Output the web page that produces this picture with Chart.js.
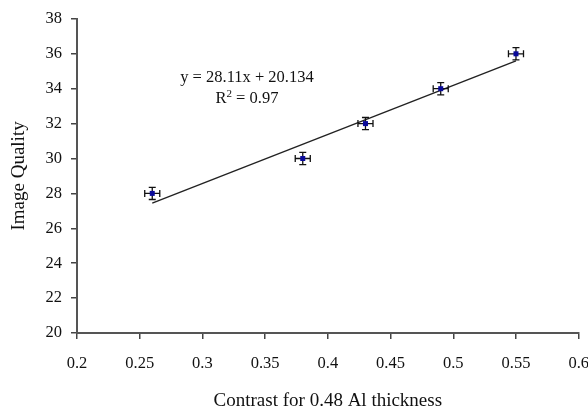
<!DOCTYPE html>
<html>
<head>
<meta charset="utf-8">
<script src="https://cdn.jsdelivr.net/npm/chart.js@4"></script>
<style>
  html, body { margin: 0; padding: 0; background: #fff; overflow: hidden; }
  #wrap { width: 604px; height: 416px; }
</style>
</head>
<body>
<div id="wrap"><canvas id="chart"></canvas></div>
<script>
// punkty pomiarowe
const contrast = [0.26, 0.38, 0.43, 0.49, 0.55]
const quality = [28, 30, 32, 34, 36]
const xErr = [0.006, 0.006, 0.006, 0.006, 0.006]
const yErr = [0.35, 0.35, 0.35, 0.35, 0.35]
// linia trendu (końce)
const trendX = [0.26, 0.55]
const trendY = [27.44, 35.59]
const equation = 'y = 28.11x + 20.134'
const rSquared = '0.97'

let points = []
for (let i = 0; i < contrast.length; i++) {
    points.push({x: contrast[i], y: quality[i]})
}
let trend = []
for (let i = 0; i < trendX.length; i++) {
    trend.push({x: trendX[i], y: trendY[i]})
}

const serif = '"Liberation Serif", "Times New Roman", serif'

// słupki błędów + równanie
const extras = {
    id: 'extras',
    afterDatasetsDraw(chart) {
        const ctx = chart.ctx
        const xs = chart.scales.x, ys = chart.scales.y
        ctx.save()
        ctx.strokeStyle = '#111'
        ctx.lineWidth = 1.3
        for (let i = 0; i < contrast.length; i++) {
            const cx = xs.getPixelForValue(contrast[i])
            const cy = ys.getPixelForValue(quality[i])
            const x1 = xs.getPixelForValue(contrast[i] - xErr[i])
            const x2 = xs.getPixelForValue(contrast[i] + xErr[i])
            const y1 = ys.getPixelForValue(quality[i] + yErr[i])
            const y2 = ys.getPixelForValue(quality[i] - yErr[i])
            ctx.beginPath()
            ctx.moveTo(x1, cy); ctx.lineTo(x2, cy)
            ctx.moveTo(x1, cy - 3.5); ctx.lineTo(x1, cy + 3.5)
            ctx.moveTo(x2, cy - 3.5); ctx.lineTo(x2, cy + 3.5)
            ctx.moveTo(cx, y1); ctx.lineTo(cx, y2)
            ctx.moveTo(cx - 3.5, y1); ctx.lineTo(cx + 3.5, y1)
            ctx.moveTo(cx - 3.5, y2); ctx.lineTo(cx + 3.5, y2)
            ctx.stroke()
            ctx.fillStyle = '#0a0a9a'
            ctx.fillRect(cx - 2.5, cy - 2.5, 5, 5)
        }
        ctx.fillStyle = '#111'
        ctx.font = '16.5px ' + serif
        ctx.textAlign = 'center'
        ctx.textBaseline = 'middle'
        const tx = xs.getPixelForValue(0.3355)
        ctx.fillText(equation, tx, ys.getPixelForValue(34.65))
        // R² z indeksem górnym
        const ly = ys.getPixelForValue(33.4)
        const partR = 'R', partRest = ' = ' + rSquared
        ctx.font = '16.5px ' + serif
        const wR = ctx.measureText(partR).width
        const wRest = ctx.measureText(partRest).width
        ctx.font = '11px ' + serif
        const w2 = ctx.measureText('2').width
        let sx = tx - (wR + w2 + wRest) / 2
        ctx.textAlign = 'left'
        ctx.font = '16.5px ' + serif
        ctx.fillText(partR, sx, ly)
        ctx.font = '11px ' + serif
        ctx.fillText('2', sx + wR, ly - 5)
        ctx.font = '16.5px ' + serif
        ctx.fillText(partRest, sx + wR + w2, ly)
        ctx.restore()
    }
}

const data = {
    datasets: [
        {
            type: 'line',
            label: 'trend',
            data: trend,
            borderColor: '#222',
            borderWidth: 1.4,
            pointRadius: 0,
            fill: false
        },
        {
            type: 'scatter',
            label: 'Image Quality',
            data: points,
            pointRadius: 0,
            pointHoverRadius: 0
        }
    ]
}

const config = {
    type: 'scatter',
    data: data,
    options: {
        responsive: true,
        maintainAspectRatio: false,
        animation: false,
        layout: { padding: { left: 0, right: 21, top: 13, bottom: 0 } },
        plugins: {
            legend: { display: false },
            tooltip: { enabled: false }
        },
        scales: {
            x: {
                type: 'linear',
                min: 0.2,
                max: 0.6,
                ticks: {
                    stepSize: 0.05,
                    color: '#111',
                    font: { family: serif, size: 16.5 },
                    padding: 15,
                    callback: v => Math.round(v * 100) / 100
                },
                grid: { drawOnChartArea: false, drawTicks: true, tickLength: 6, color: '#444', lineWidth: 1.5 },
                border: { display: true, color: '#555', width: 2 },
                title: {
                    display: true,
                    text: 'Contrast for 0.48 Al thickness',
                    color: '#111',
                    font: { family: serif, size: 19 },
                    padding: { top: 14 }
                },
                afterFit: s => { s.height = 83 }
            },
            y: {
                min: 20,
                max: 38,
                ticks: {
                    stepSize: 2,
                    color: '#111',
                    font: { family: serif, size: 16.5 },
                    padding: 9
                },
                grid: { drawOnChartArea: false, drawTicks: true, tickLength: 6, color: '#444', lineWidth: 1.5 },
                border: { display: true, color: '#555', width: 2 },
                title: {
                    display: true,
                    text: 'Image Quality',
                    color: '#111',
                    font: { family: serif, size: 19 },
                    padding: { top: 8, bottom: 14 }
                },
                afterFit: s => { s.width = 77 }
            }
        }
    },
    plugins: [extras]
}

new Chart(document.getElementById('chart'), config)
</script>
</body>
</html>
